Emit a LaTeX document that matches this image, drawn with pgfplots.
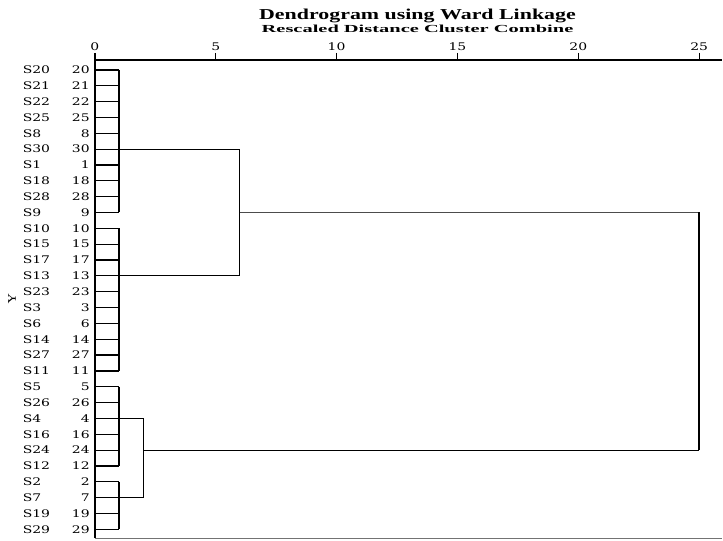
\documentclass[border=0pt]{standalone}
\usepackage{pgfplots}
\pgfplotsset{compat=1.18}
\usepackage{fontspec}
\setmainfont{Liberation Serif}
\newfontfamily\labfont{DejaVu Serif}
% wide serif used for case labels and tick numbers
\newcommand\lab[1]{\scalebox{1.33}[1]{\labfont\fontsize{10.5}{12}\selectfont #1}}
\newcommand\row[2]{\makebox[67pt]{\lab{#1}\hfill\lab{#2}}}

\begin{document}
\begin{tikzpicture}
\begin{axis}[
  scale only axis, width=628pt, height=479pt,
  xmin=0, xmax=25.95, ymin=0.37, ymax=30.57, y dir=reverse,
  axis x line*=top, axis y line*=left,
  axis line style={line width=1.7pt, black},
  clip=false,
  xtick={0,5,10,15,20,25},
  xticklabels={\lab{0},\lab{5},\lab{10},\lab{15},\lab{20},\lab{25}},
  tick align=outside, major tick length=7pt,
  x tick style={line width=1.3pt, black},
  xticklabel style={anchor=south, inner sep=0pt, yshift=2pt},
  ytick={1,...,30},
  yticklabels={\row{S20}{20},\row{S21}{21},\row{S22}{22},\row{S25}{25},\row{S8}{8},
               \row{S30}{30},\row{S1}{1},\row{S18}{18},\row{S28}{28},\row{S9}{9},
               \row{S10}{10},\row{S15}{15},\row{S17}{17},\row{S13}{13},\row{S23}{23},
               \row{S3}{3},\row{S6}{6},\row{S14}{14},\row{S27}{27},\row{S11}{11},
               \row{S5}{5},\row{S26}{26},\row{S4}{4},\row{S16}{16},\row{S24}{24},
               \row{S12}{12},\row{S2}{2},\row{S7}{7},\row{S19}{19},\row{S29}{29}},
  y tick style={draw=none},
  yticklabel style={anchor=east, inner sep=0pt, xshift=2pt},
]
% leaves: every case joins its first cluster at rescaled distance 1
\addplot[xcomb, black, line width=1.2pt, mark=none] coordinates {
  (1,1) (1,2) (1,3) (1,4) (1,5) (1,6) (1,7) (1,8) (1,9) (1,10)
  (1,11) (1,12) (1,13) (1,14) (1,15) (1,16) (1,17) (1,18) (1,19) (1,20)
  (1,21) (1,22) (1,23) (1,24) (1,25) (1,26) (1,27) (1,28) (1,29) (1,30)};
% first-level clusters
\addplot[black, line width=1.6pt] coordinates {(1,1) (1,10)};
\addplot[black, line width=1.6pt] coordinates {(1,11) (1,20)};
\addplot[black, line width=1.6pt] coordinates {(1,21) (1,26)};
\addplot[black, line width=1.6pt] coordinates {(1,27) (1,30)};
% clusters 1+2 join at 6
\addplot[black, line width=1.1pt] coordinates {(1,6) (6,6) (6,14) (1,14)};
% clusters 3+4 join at 2
\addplot[black, line width=1.1pt] coordinates {(1,23) (2,23) (2,28) (1,28)};
% final merge at 25
\addplot[black!70, line width=1.1pt] coordinates {(6,10) (25,10)};
\addplot[black, line width=1.1pt] coordinates {(2,25) (25,25)};
\addplot[black, line width=1.4pt] coordinates {(25,10) (25,25)};
% bottom frame line
\draw[black!55, line width=1.5pt] (axis cs:0,30.57) -- (axis cs:25.95,30.57);
% titles
\node[anchor=base] at ([xshift=9pt,yshift=40pt]axis description cs:0.5,1)
  {\resizebox{317pt}{10.5pt}{\bfseries Dendrogram using Ward Linkage}};
\node[anchor=base] at ([xshift=9pt,yshift=27pt]axis description cs:0.5,1)
  {\resizebox{312pt}{7.5pt}{\bfseries Rescaled Distance Cluster Combine}};
% variable label
\node[rotate=90] at ([xshift=-83pt]axis description cs:0,0.5) {\lab{Y}};
% page extent
\path ([xshift=-95pt,yshift=60pt]axis description cs:0,1) rectangle ([yshift=-2pt]axis description cs:1,0);
\end{axis}
\end{tikzpicture}
\end{document}
